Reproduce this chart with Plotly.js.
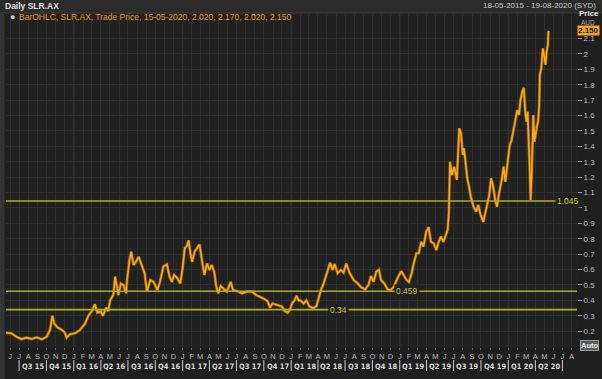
<!DOCTYPE html>
<html>
<head>
<meta charset="utf-8">
<script src="https://cdn.plot.ly/plotly-3.0.1.min.js"></script>
<style>html,body{margin:0;padding:0;background:#1f1f1f;}#chart{width:602px;height:379px;}</style>
</head>
<body>
<div id="chart"></div>
<script>
// ---- data ----
const dates = [
"2015-05-18","2015-06-05","2015-06-22","2015-07-09","2015-07-26","2015-08-12","2015-08-29","2015-09-15","2015-10-02","2015-10-13",
"2015-10-21","2015-10-27","2015-11-07","2015-11-22","2015-12-02","2015-12-08","2015-12-19","2016-01-05","2016-01-22","2016-02-08",
"2016-02-19","2016-03-01","2016-03-12","2016-03-20","2016-04-01","2016-04-08","2016-04-19","2016-04-26","2016-05-02","2016-05-13",
"2016-05-19","2016-05-25","2016-05-30","2016-06-07","2016-06-16","2016-06-25","2016-06-28","2016-07-06","2016-07-12","2016-07-20",
"2016-07-28","2016-08-06","2016-08-17","2016-08-26","2016-09-03","2016-09-09","2016-09-14","2016-09-25","2016-10-08","2016-10-17",
"2016-10-28","2016-11-09","2016-11-18","2016-11-26","2016-12-03","2016-12-12","2016-12-24","2017-01-01","2017-01-08","2017-01-16",
"2017-01-21","2017-01-27","2017-02-02","2017-02-10","2017-02-19","2017-02-27","2017-03-07","2017-03-15","2017-03-24","2017-04-01",
"2017-04-09","2017-04-17","2017-04-24","2017-05-01","2017-05-09","2017-05-18","2017-05-29","2017-06-12","2017-06-19","2017-07-04",
"2017-07-19","2017-08-05","2017-08-22","2017-09-05","2017-09-19","2017-10-02","2017-10-13","2017-10-22","2017-10-30","2017-11-14",
"2017-12-01","2017-12-10","2017-12-20","2017-12-27","2018-01-04","2018-01-12","2018-01-19","2018-01-26","2018-02-01","2018-02-12",
"2018-02-21","2018-03-04","2018-03-16","2018-03-27","2018-04-03","2018-04-11","2018-04-20","2018-05-01","2018-05-12","2018-05-20",
"2018-05-27","2018-06-06","2018-06-17","2018-06-26","2018-07-05","2018-07-16","2018-07-30","2018-08-10","2018-08-24","2018-09-07",
"2018-09-18","2018-09-26","2018-10-05","2018-10-14","2018-10-23","2018-10-30","2018-11-10","2018-11-21","2018-12-02","2018-12-13",
"2018-12-24","2019-01-06","2019-01-15","2019-01-24","2019-02-01","2019-02-10","2019-02-17","2019-02-26","2019-03-06","2019-03-14",
"2019-03-22","2019-03-31","2019-04-08","2019-04-16","2019-04-25","2019-05-04","2019-05-11","2019-05-19","2019-05-28","2019-06-06",
"2019-06-11","2019-06-15","2019-06-17","2019-06-19","2019-06-25","2019-07-03","2019-07-12","2019-07-17","2019-07-20","2019-07-26",
"2019-08-01","2019-08-05","2019-08-09","2019-08-16","2019-08-23","2019-08-28","2019-09-06","2019-09-15","2019-09-22","2019-09-30",
"2019-10-09","2019-10-17","2019-10-24","2019-10-29","2019-11-04","2019-11-10","2019-11-18","2019-11-24","2019-12-02","2019-12-11",
"2019-12-16","2019-12-22","2019-12-30","2020-01-06","2020-01-12","2020-01-19","2020-01-25","2020-01-31","2020-02-06","2020-02-11",
"2020-02-17","2020-02-22","2020-02-27","2020-03-02","2020-03-06","2020-03-11","2020-03-13","2020-03-16","2020-03-20","2020-03-25",
"2020-03-29","2020-04-05","2020-04-10","2020-04-14","2020-04-16","2020-04-21","2020-04-26","2020-04-30","2020-05-05","2020-05-09",
"2020-05-13","2020-05-15"
];
const prices = [
0.19,0.186,0.164,0.149,0.158,0.15,0.16,0.147,0.164,0.208,
0.30,0.25,0.225,0.208,0.19,0.158,0.18,0.186,0.208,0.25,
0.30,0.33,0.375,0.32,0.33,0.30,0.353,0.33,0.40,0.435,
0.554,0.48,0.435,0.51,0.50,0.446,0.53,0.66,0.716,0.63,
0.65,0.684,0.63,0.576,0.457,0.50,0.532,0.52,0.468,0.52,
0.62,0.634,0.554,0.52,0.565,0.55,0.51,0.61,0.738,0.755,
0.79,0.706,0.65,0.716,0.738,0.764,0.66,0.565,0.64,0.597,
0.63,0.586,0.49,0.446,0.494,0.48,0.457,0.52,0.468,0.46,
0.446,0.457,0.457,0.435,0.424,0.41,0.396,0.353,0.38,0.37,
0.36,0.331,0.32,0.338,0.38,0.40,0.43,0.40,0.40,0.38,
0.40,0.36,0.35,0.364,0.41,0.468,0.51,0.576,0.645,0.597,
0.636,0.576,0.597,0.58,0.64,0.58,0.532,0.515,0.485,0.472,
0.50,0.558,0.52,0.586,0.60,0.532,0.51,0.472,0.468,0.49,
0.543,0.59,0.565,0.532,0.52,0.576,0.64,0.706,0.706,0.78,
0.75,0.846,0.875,0.78,0.77,0.727,0.775,0.814,0.78,0.836,
0.857,0.965,1.117,1.30,1.214,1.268,1.182,1.43,1.517,1.485,
1.344,1.388,1.30,1.193,1.128,1.073,1.008,0.976,1.02,0.955,
0.91,0.987,1.04,1.084,1.193,1.15,1.052,1.008,1.106,1.193,
1.268,1.17,1.30,1.41,1.44,1.517,1.593,1.636,1.604,1.70,
1.755,1.78,1.625,1.56,1.625,1.43,1.258,1.052,1.236,1.604,
1.43,1.517,1.56,1.67,1.864,1.907,2.037,1.994,1.93,2.015,
2.06,2.15
];
const lastBar = {date: "15-05-2020", open: 2.020, high: 2.170, low: 2.020, close: 2.150};
const levels = [1.045, 0.459, 0.34];
const levelLabels = ["1.045", "0.459", "0.34"];
const levelLabelDates = ["2020-07-19", "2019-01-25", "2018-06-09"];
const yTickVals = [0.2,0.3,0.4,0.5,0.6,0.7,0.8,0.9,1,1.1,1.2,1.3,1.4,1.5,1.6,1.7,1.8,1.9,2,2.1];
const yTickText = ["0.2","0.3","0.4","0.5","0.6","0.7","0.8","0.9","1","1.1","1.2","1.3","1.4","1.5","1.6","1.7","1.8","1.9","2","2.1"];
const monthInitials = ["J","F","M","A","M","J","J","A","S","O","N","D"];
const quarterStarts = ["2015-07-01","2015-10-01","2016-01-01","2016-04-01","2016-07-01","2016-10-01","2017-01-01","2017-04-01",
  "2017-07-01","2017-10-01","2018-01-01","2018-04-01","2018-07-01","2018-10-01","2019-01-01","2019-04-01","2019-07-01",
  "2019-10-01","2020-01-01","2020-04-01","2020-07-01"];
const quarterLabels = ["Q3 15","Q4 15","Q1 16","Q2 16","Q3 16","Q4 16","Q1 17","Q2 17","Q3 17","Q4 17",
  "Q1 18","Q2 18","Q3 18","Q4 18","Q1 19","Q2 19","Q3 19","Q4 19","Q1 20","Q2 20"];
const yearStarts = ["2016-01-01","2017-01-01","2018-01-01","2019-01-01","2020-01-01"];

// ---- build month ticks ----
const monthTicks = [], monthText = [];
for (let y = 2015, m = 5; y < 2020 || (y === 2020 && m <= 7); ) {
  monthTicks.push(y + "-" + String(m + 1).padStart(2, "0") + "-01");
  monthText.push(monthInitials[m]);
  m++; if (m > 11) { m = 0; y++; }
}

const FONT = "DejaVu Sans Condensed, DejaVu Sans, Liberation Sans, sans-serif";
const FONT2 = "Liberation Sans, Arial, sans-serif";
const plotBg = "#212121";
const levelColor = "#aeae22";
const H = 334, BOT = 347;               // plot height / bottom pixel
const py = Y => (BOT - Y) / H;          // pixel row -> paper y
const px = X => (X - 6) / 571;          // pixel col -> paper x

const shapes = [];
const annotations = [];

// header band
shapes.push({type:"rect", xref:"paper", yref:"paper", x0:px(-5), x1:px(610), y0:1.0, y1:py(-2),
  fillcolor:"#2b2b2b", line:{width:0}, layer:"below"});
shapes.push({type:"line", xref:"paper", yref:"paper", x0:px(-5), x1:px(610), y0:1.0, y1:1.0,
  line:{color:"#3c3c3c", width:1}});
// left strip
shapes.push({type:"rect", xref:"paper", yref:"paper", x0:px(0), x1:px(4.5), y0:py(380), y1:1.0,
  fillcolor:"#363636", line:{width:0}});
// year lines
yearStarts.forEach(d => shapes.push({type:"line", xref:"x", yref:"paper", x0:d, x1:d, y0:0, y1:1,
  line:{color:"#3d3d3d", width:1}, layer:"below"}));
// level lines
levels.forEach(v => shapes.push({type:"line", xref:"paper", yref:"y", x0:0, x1:1, y0:v, y1:v,
  line:{color:levelColor, width:1.6}}));
levels.forEach((v, i) => annotations.push({xref:"x", yref:"y", x:levelLabelDates[i], y:v,
  text:levelLabels[i], showarrow:false, bgcolor:plotBg, borderpad:1,
  font:{family:FONT2, size:8.5, color:"#c3c33a"}}));
// quarter separators and labels
quarterStarts.forEach(d => shapes.push({type:"line", xref:"x", yref:"paper", x0:d, x1:d, y0:py(360), y1:py(371),
  line:{color:"#cfcfcf", width:1}}));
quarterLabels.forEach((q, i) => {
  const a = new Date(quarterStarts[i]).getTime(), b = new Date(quarterStarts[i + 1]).getTime();
  const mid = new Date((a + b) / 2).toISOString().slice(0, 10);
  annotations.push({xref:"x", yref:"paper", x:mid, y:py(366), text:"<b>" + q + "</b>", showarrow:false,
    font:{family:FONT, size:7.5, color:"#d8d8d8"}, yanchor:"middle", borderpad:0});
});
// header texts
annotations.push({xref:"paper", yref:"paper", x:px(3), y:py(5.5), xanchor:"left", yanchor:"middle",
  text:"<b>Daily SLR.AX</b>", showarrow:false, font:{family:FONT2, size:8.5, color:"#e0e0e0"}});
annotations.push({xref:"paper", yref:"paper", x:px(598), y:py(5.5), xanchor:"right", yanchor:"middle",
  text:"18-05-2015 - 19-08-2020 (SYD)", showarrow:false, font:{family:FONT2, size:8, color:"#c8c8c8"}});
// legend line
annotations.push({xref:"paper", yref:"paper", x:px(8), y:py(17), xanchor:"left", yanchor:"middle",
  text:"●", showarrow:false, font:{family:FONT2, size:9, color:"#c9d3e6"}});
annotations.push({xref:"paper", yref:"paper", x:px(17), y:py(17), xanchor:"left", yanchor:"middle",
  text:"BarOHLC, SLR.AX, Trade Price, " + lastBar.date + ", " + lastBar.open.toFixed(3) + ", " +
    lastBar.high.toFixed(3) + ", " + lastBar.low.toFixed(3) + ", " + lastBar.close.toFixed(3),
  showarrow:false, font:{family:FONT2, size:8.5, color:"#e49a2c"}});
// axis header
annotations.push({xref:"paper", yref:"paper", x:px(589), y:py(13.5), xanchor:"center", yanchor:"middle",
  text:"<b>Price</b>", showarrow:false, font:{family:FONT2, size:8, color:"#e6e6e6"}, borderpad:0});
annotations.push({xref:"paper", yref:"paper", x:px(588), y:py(22.5), xanchor:"center", yanchor:"middle",
  text:"AUD", showarrow:false, font:{family:FONT2, size:6.5, color:"#a8a8a8"}, borderpad:0});
// last price box
annotations.push({xref:"paper", yref:"y", x:1.0, y:lastBar.close, xanchor:"left", yanchor:"middle",
  text:"<b>" + lastBar.close.toFixed(3) + "</b>", showarrow:false, bgcolor:"#f5a31c", borderpad:0,
  font:{family:FONT2, size:8, color:"#1a1a1a"}});
// Auto box
annotations.push({xref:"paper", yref:"paper", x:px(589), y:py(345), xanchor:"center", yanchor:"middle",
  text:"<b>Auto</b>", showarrow:false, bgcolor:"#5a5a5a", bordercolor:"#9a9a9a", borderwidth:1, borderpad:0,
  font:{family:FONT2, size:7.5, color:"#f0f0f0"}});

const traces = [
  {type:"scatter", mode:"lines", x:dates, y:prices, line:{color:"#8a5a12", width:3.0}, hoverinfo:"skip"},
  {type:"scatter", mode:"lines", x:dates, y:prices, line:{color:"#f9a81e", width:1.6}, hoverinfo:"skip"}
];

const layout = {
  width:602, height:379,
  margin:{l:6, r:25, t:13, b:32, pad:0},
  paper_bgcolor:"#1f1f1f", plot_bgcolor:plotBg,
  showlegend:false,
  font:{family:FONT2, size:8, color:"#bdbdbd"},
  xaxis:{type:"date", range:["2015-05-18","2020-08-19"], tickmode:"array", tickvals:monthTicks, ticktext:monthText,
    tickangle:0, ticks:"outside", ticklen:2, tickcolor:"#6a6a6a", tickfont:{family:FONT2, size:7.5, color:"#bdbdbd"},
    showgrid:true, gridcolor:"#2f2f2f", gridwidth:1, zeroline:false, showline:false, fixedrange:true},
  yaxis:{side:"right", range:[0.0974, 2.266], tickmode:"array", tickvals:yTickVals, ticktext:yTickText,
    ticks:"outside", ticklen:4, tickcolor:"#9a9a9a", tickfont:{family:FONT2, size:8, color:"#bdbdbd"},
    showgrid:true, gridcolor:"#2f2f2f", gridwidth:1, zeroline:false, showline:false, fixedrange:true},
  shapes:shapes, annotations:annotations
};

Plotly.newPlot("chart", traces, layout, {staticPlot:true, displayModeBar:false});
</script>
</body>
</html>
